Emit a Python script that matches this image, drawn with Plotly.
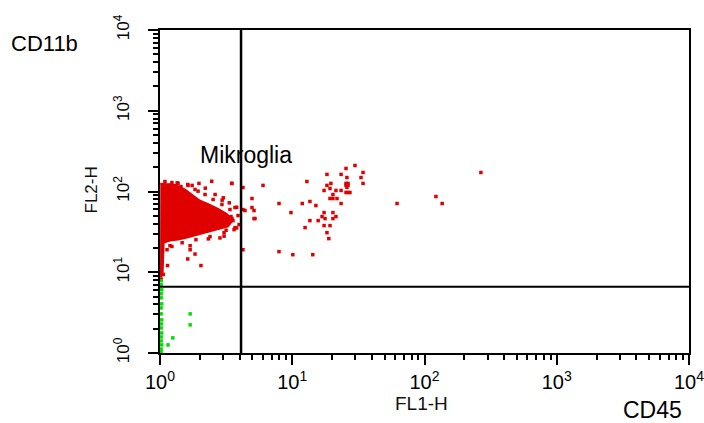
import plotly.graph_objects as go

# ---- data ----
# dense red core of the population: outline of the solid region (FL1-H, FL2-H)
core_x = [1.005, 1.30, 1.55, 1.78, 2.01, 2.39, 2.75, 3.21, 3.56, 3.27, 2.70, 2.27, 1.91,
          1.60, 1.37, 1.19, 1.07, 1.06, 1.05, 1.0]
core_y = [126, 122, 106, 89.2, 77.3, 68.5, 61.5, 53.0, 43.6, 36.7, 33.7, 30.9, 29.2,
          26.8, 25.3, 24.6, 23.2, 16.5, 9.31, 9.31]

# individual red events
red_x = [29.8, 25.5, 34.3, 18.3, 23.4, 25.9, 33.1, 267, 12.9, 34.3, 18.3, 19.6,
         25.5, 26.4, 25.5, 26.4, 25.9, 6.01, 3.50, 17.4, 21.4, 23.4, 26.4, 25.5, 27.3,
         19.3, 20.3, 122, 19.3, 20.3, 21.8, 4.96, 7.94, 11.9, 13.6, 15.1, 23.4, 62.0,
         136, 4.24, 4.96, 4.39, 5.14, 3.69, 9.78, 17.4, 20.3, 16.8, 21.4, 17.7, 20.3,
         5.14, 13.6, 15.7, 12.5, 17.4, 19.3, 18.3, 18.9, 4.24, 7.94, 10.1, 14.3, 3.50,
         3.69, 3.44, 3.56,
         2.46, 3.48, 1.97, 4.24, 5.23, 1.23, 1.69, 1.69, 1.62, 2.04, 1.84, 1.14, 2.32,
         2.84, 3.16, 3.80, 3.34, 3.80, 2.61, 3.01, 1.94, 1.44, 1.19, 1.01, 1.06, 1.02,
         1.62, 1.75, 2.20, 1.35, 2.95, 3.05,
         1.09, 1.23, 1.37, 1.63, 1.84, 2.19, 2.52, 2.94, 3.38, 3.89, 3.96, 3.63, 3.05,
         2.39, 1.87, 1.47, 1.19, 1.13]
red_y = [210, 193, 172, 163, 163, 149, 149, 172, 133, 126, 119, 126,
         126, 126, 119, 119, 113, 119, 126, 103, 103, 103, 97.2, 97.2, 97.2,
         109, 91.8, 86.7, 81.9, 81.9, 81.9, 81.9, 71.0, 71.0, 75.2, 67.0, 71.0, 71.0,
         71.0, 112, 63.3, 58.1, 58.1, 63.3, 54.8, 54.8, 54.8, 48.9, 48.9, 46.2, 46.2,
         46.2, 43.6, 43.6, 35.7, 37.8, 37.8, 30.9, 26.1, 19.0, 18.0, 16.5, 16.5, 46.2,
         35.7, 48.9, 43.6,
         134, 126, 126, 59.8, 46.2, 20.9, 21.3, 19.0, 14.6, 12.1, 16.8, 12.1, 25.9,
         26.6, 33.1, 35.4, 72.4, 63.8, 91.8, 83.5, 101, 115, 119, 9.05, 9.4, 8.2,
         122, 119, 110, 128, 78, 28,
         133, 129, 126, 119, 106, 91.8, 79.6, 69.0, 59.8, 50.3, 38.9, 33.7, 30.9,
         27.6, 25.3, 23.2, 21.3, 19.0]

# green events (below the FL2 gate)
green_x = [1.02, 1.02, 1.03, 1.02, 1.02, 1.03, 1.02, 1.02, 1.03, 1.02, 1.02, 1.03,
           1.02, 1.02, 1.03, 1.02, 1.02, 1.69, 1.69, 1.25, 1.15]
green_y = [7.84, 7.0, 6.06, 5.41, 4.82, 4.06, 3.62, 3.05, 2.57, 2.29, 2.04, 1.77,
           1.58, 1.41, 1.26, 1.12, 1.03, 3.05, 2.23, 1.54, 1.26]

# gates
gate_fl1 = 4.1
gate_fl2 = 6.6

tick_vals = [1, 10, 100, 1000, 10000]
tick_text = ["10<sup>0</sup>", "10<sup>1</sup>", "10<sup>2</sup>", "10<sup>3</sup>", "10<sup>4</sup>"]

RED = "#e00000"
GREEN = "#00e000"
FONT = "Liberation Sans, Arial, sans-serif"

W, H = 704, 423
ML, MR, MT, MB = 160, 15, 30, 70
PW, PH = W - ML - MR, H - MT - MB


def px(xp):
    return (xp - ML) / PW


def py(yp):
    return (H - MB - yp) / PH


fig = go.Figure()
fig.add_trace(go.Scatter(x=core_x, y=core_y, mode="lines", fill="toself",
                         fillcolor=RED, line=dict(color=RED, width=1.5),
                         hoverinfo="skip", showlegend=False))
fig.add_trace(go.Scatter(x=red_x, y=red_y, mode="markers",
                         marker=dict(color=RED, size=3.5, symbol="square"),
                         showlegend=False))
fig.add_trace(go.Scatter(x=green_x, y=green_y, mode="markers",
                         marker=dict(color=GREEN, size=3.5, symbol="square"),
                         showlegend=False))

# gate lines
fig.add_shape(type="line", xref="x", yref="paper", x0=gate_fl1, x1=gate_fl1, y0=0, y1=1,
              line=dict(color="black", width=2.5))
fig.add_shape(type="line", xref="paper", yref="y", x0=0, x1=1, y0=gate_fl2, y1=gate_fl2,
              line=dict(color="black", width=2))

axis_common = dict(
    type="log", range=[0, 4], showgrid=False, zeroline=False, automargin=False,
    ticklabeloverflow="allow",
    showline=True, linecolor="black", linewidth=2, mirror=True,
    ticks="outside", ticklen=10, tickwidth=1.5, tickcolor="black",
    tickvals=tick_vals, ticktext=tick_text,
    minor=dict(ticks="outside", ticklen=5, tickwidth=1.5, tickcolor="black",
               dtick="D1", showgrid=False),
)

fig.update_layout(
    width=W, height=H,
    margin=dict(l=ML, r=MR, t=MT, b=MB),
    paper_bgcolor="white", plot_bgcolor="white",
    font=dict(family=FONT, color="black"),
    xaxis=dict(**axis_common, tickfont=dict(family=FONT, size=20, color="black")),
    yaxis=dict(**axis_common, tickangle=-90, ticklabelstandoff=12,
               tickfont=dict(family=FONT, size=17, color="black")),
    annotations=[
        dict(text="Mikroglia", x=px(245.5), y=py(155), xref="paper", yref="paper",
             xanchor="center", yanchor="middle", showarrow=False,
             font=dict(size=23, family=FONT)),
        dict(text="FL1-H", x=px(421.5), y=py(403), xref="paper", yref="paper",
             xanchor="center", yanchor="middle", showarrow=False,
             font=dict(size=19, family=FONT, color="#111")),
        dict(text="FL2-H", x=px(91.5), y=py(190), xref="paper", yref="paper",
             xanchor="center", yanchor="middle", showarrow=False, textangle=-90,
             font=dict(size=17, family=FONT, color="#111")),
        dict(text="CD11b", x=px(44), y=py(43), xref="paper", yref="paper",
             xanchor="center", yanchor="middle", showarrow=False,
             font=dict(size=22, family=FONT)),
        dict(text="CD45", x=px(652), y=py(410), xref="paper", yref="paper",
             xanchor="center", yanchor="middle", showarrow=False,
             font=dict(size=23, family=FONT)),
    ],
)

fig.write_html("out.html")
